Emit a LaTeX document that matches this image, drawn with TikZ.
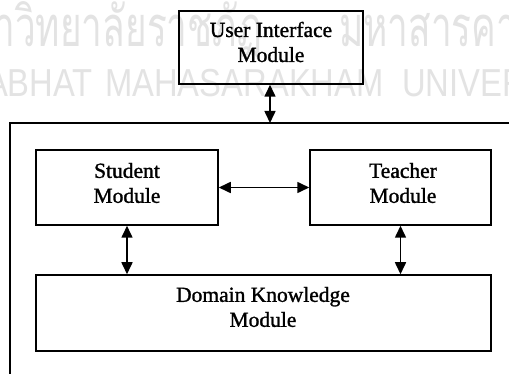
\documentclass[tikz,border=0pt]{standalone}
\usepackage{fontspec}
\setmainfont{Liberation Serif}
\newfontfamily\modfont{Liberation Serif}[FakeBold=1.3]
\newfontfamily\thaifont[Script=Thai]{Loma}
\newfontfamily\wmfont{Liberation Sans}
\usetikzlibrary{arrows.meta}
\definecolor{wmgray}{gray}{0.89}
\begin{document}
\begin{tikzpicture}[x=1pt,y=-1pt,
  box/.style={draw,line width=1.5pt,rectangle,inner sep=0pt},
  modtext/.style={align=center,inner sep=0pt,font=\modfont\fontsize{21.5}{25}\selectfont},
  link/.style={line width=1.6pt,{Triangle[length=12pt,width=11pt]}-{Triangle[length=12pt,width=11pt]}},
  wmthai/.style={text=wmgray,inner sep=0pt,font=\thaifont\fontsize{56}{60}\selectfont,xscale=0.66},
  wmlatin/.style={text=wmgray,inner sep=0pt,font=\wmfont\fontsize{39}{42}\selectfont,xscale=0.84}]
\useasboundingbox (0,0) rectangle (509,374);
\clip (0,0) rectangle (509,374);
\fill[white] (0,0) rectangle (509,374);

% background watermark
\node[wmthai,anchor=base east] (wmThaiA) at (262,47) {มหาวิทยาลัยราชภัฏ};
\node[wmthai,anchor=base west] (wmThaiB) at (339,47) {มหาสารคาม};
\node[wmlatin,anchor=base east] (wmRajabhat) at (93,97) {RAJABHAT};
\node[wmlatin,anchor=base west] (wmMaha) at (105,97) {MAHASARAKHAM};
\node[wmlatin,anchor=base west] (wmUniv) at (402,97) {UNIVERSITY};

% modules
\node[box,minimum width=184pt,minimum height=73pt] (ui) at (271,47.5) {};
\node[box,minimum width=520pt,minimum height=260pt] (system) at (270,253) {};
\node[box,minimum width=182pt,minimum height=75pt] (student) at (127,187.5) {};
\node[box,minimum width=181pt,minimum height=75pt] (teacher) at (400.5,187.5) {};
\node[box,minimum width=455pt,minimum height=76pt] (domain) at (263.5,313) {};

% module captions
\node[modtext] (uiText) at (271,42) {User Interface\\Module};
\node[modtext] (studentText) at (127,183) {Student\\Module};
\node[modtext] (teacherText) at (403,183) {Teacher\\Module};
\node[modtext] (domainText) at (263,307) {Domain Knowledge\\Module};

% connections
\coordinate (sysTop) at (270,123);
\draw[link] (ui.south -| sysTop) -- (sysTop);
\draw[link] (student.east) -- (teacher.west);
\draw[link] (student.south) -- (student.south |- domain.north);
\draw[link] (teacher.south) -- (teacher.south |- domain.north);
\end{tikzpicture}
\end{document}
